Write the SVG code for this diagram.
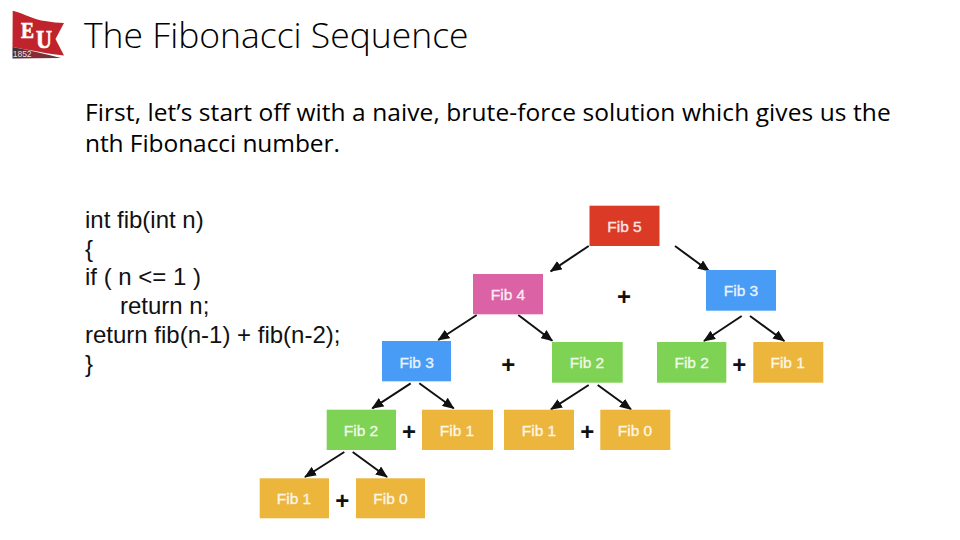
<svg xmlns="http://www.w3.org/2000/svg" width="960" height="540" viewBox="0 0 960 540">
<style>
.t{font-family:"Open Sans","Noto Sans",sans-serif;fill:#000}
.title{font-size:35.5px;font-weight:300}
.body{font-size:24.5px;font-weight:400;letter-spacing:.08px}
.body2{letter-spacing:-.07px}
.code{font-family:"Liberation Sans",Arial,sans-serif;font-size:24px;fill:#111}
.box{stroke:none}
.lbl{font-family:"Liberation Sans",Arial,sans-serif;font-size:15.5px;fill:#fff;stroke:#fff;stroke-width:.35;text-anchor:middle;opacity:.88}
.plus{font-family:"Liberation Sans",Arial,sans-serif;font-size:24px;font-weight:700;fill:#111;text-anchor:middle}
.red{fill:#db3a26}.pink{fill:#dc62a6}.blue{fill:#489cf5}.green{fill:#7ed254}.gold{fill:#ecb63c}
.eu{font-family:"Liberation Serif",serif;font-weight:700;fill:#fff;stroke:#fff;stroke-width:.7}
#connectors line{stroke:#111;stroke-width:2;marker-end:url(#a)}
</style>
<defs>
<marker id="a" markerUnits="userSpaceOnUse" markerWidth="12" markerHeight="10" refX="11" refY="5" orient="auto"><path d="M0 0L12 5L0 10Z" fill="#111"/></marker>
<linearGradient id="strip" x1="0" x2="1" y1="0" y2="0"><stop offset="0" stop-color="#3a3034"/><stop offset=".45" stop-color="#8c2a32"/><stop offset="1" stop-color="#4a4044"/></linearGradient>
</defs>
<rect width="960" height="540" fill="#fff"/>
<g id="logo">
<path d="M12.7 10.7C25 14 35 20 45 21C52 22 58 23 64 23L55.5 39L64 55.5C48 54 30 50 12.5 47Z" fill="#c0232c"/>
<path d="M12.5 47C30 50 45 54 61 58L12.5 58.5Z" fill="url(#strip)"/>
<text class="eu" x="21" y="37.5" font-size="24" textLength="13" lengthAdjust="spacingAndGlyphs">E</text>
<text class="eu" x="36" y="48" font-size="26" textLength="16" lengthAdjust="spacingAndGlyphs">U</text>
<text x="12.7" y="56.5" font-family="Liberation Sans,sans-serif" font-size="8.5" fill="#fff" opacity=".85">1852</text>
</g>
<text class="t title" x="84" y="48.3">The Fibonacci Sequence</text>
<text class="t body" x="85" y="121">First, let’s start off with a naive, brute-force solution which gives us the</text>
<text class="t body body2" x="85" y="152">nth Fibonacci number.</text>
<g id="code">
<text class="code" x="85" y="228">int fib(int n)</text>
<text class="code" x="85" y="257">{</text>
<text class="code" x="85" y="285">if ( n &lt;= 1 )</text>
<text class="code" x="120" y="314">return n;</text>
<text class="code" x="85" y="343">return fib(n-1) + fib(n-2);</text>
<text class="code" x="85" y="372">}</text>
</g>
<g id="connectors">
<line x1="588.7" y1="246" x2="550.7" y2="271.3"/>
<line x1="675" y1="246" x2="709" y2="271"/>
<line x1="476.7" y1="315" x2="438.3" y2="340"/>
<line x1="518.3" y1="315" x2="552.3" y2="340.7"/>
<line x1="741.7" y1="316" x2="704" y2="341"/>
<line x1="750" y1="316" x2="784.3" y2="341"/>
<line x1="410.7" y1="383.3" x2="372.3" y2="408.3"/>
<line x1="419.3" y1="383.3" x2="453.7" y2="408.3"/>
<line x1="588.7" y1="385" x2="551" y2="409.3"/>
<line x1="597.7" y1="385" x2="631" y2="409.3"/>
<line x1="344.3" y1="452" x2="305" y2="477"/>
<line x1="352.7" y1="452" x2="387" y2="477"/>
</g>
<g id="n1"><rect class="box red" x="589.5" y="205.7" width="70" height="40.3"/><text class="lbl" x="624.5" y="231.5">Fib 5</text></g>
<g id="n2"><rect class="box pink" x="473" y="274" width="70" height="40.3"/><text class="lbl" x="508" y="299.5">Fib 4</text></g>
<g id="n3"><rect class="box blue" x="706" y="270" width="70" height="40.7"/><text class="lbl" x="741" y="296">Fib 3</text></g>
<g id="n4"><rect class="box blue" x="382" y="341" width="69" height="40.3"/><text class="lbl" x="416.7" y="367.5">Fib 3</text></g>
<g id="n5"><rect class="box green" x="552" y="342" width="70.7" height="40.7"/><text class="lbl" x="587" y="368">Fib 2</text></g>
<g id="n6"><rect class="box green" x="657" y="342" width="69.3" height="40.7"/><text class="lbl" x="691.7" y="368">Fib 2</text></g>
<g id="n7"><rect class="box gold" x="753.3" y="342" width="70" height="40.7"/><text class="lbl" x="787.7" y="368">Fib 1</text></g>
<g id="n8"><rect class="box green" x="326.7" y="409.7" width="69.3" height="40.3"/><text class="lbl" x="361" y="435.5">Fib 2</text></g>
<g id="n9"><rect class="box gold" x="422" y="409.7" width="71" height="40.3"/><text class="lbl" x="457" y="435.5">Fib 1</text></g>
<g id="n10"><rect class="box gold" x="504" y="409.7" width="70" height="40.3"/><text class="lbl" x="539" y="435.5">Fib 1</text></g>
<g id="n11"><rect class="box gold" x="600.3" y="409.7" width="70" height="40.3"/><text class="lbl" x="635" y="435.5">Fib 0</text></g>
<g id="n12"><rect class="box gold" x="259.7" y="478.3" width="69.3" height="40"/><text class="lbl" x="294" y="504">Fib 1</text></g>
<g id="n13"><rect class="box gold" x="356" y="478.3" width="69" height="40"/><text class="lbl" x="390.5" y="504">Fib 0</text></g>
<g id="plus">
<text class="plus" x="624" y="304.5">+</text>
<text class="plus" x="508.3" y="372.5">+</text>
<text class="plus" x="739.3" y="373.2">+</text>
<text class="plus" x="409" y="440">+</text>
<text class="plus" x="587.3" y="440">+</text>
<text class="plus" x="342.3" y="509">+</text>
</g>
</svg>
